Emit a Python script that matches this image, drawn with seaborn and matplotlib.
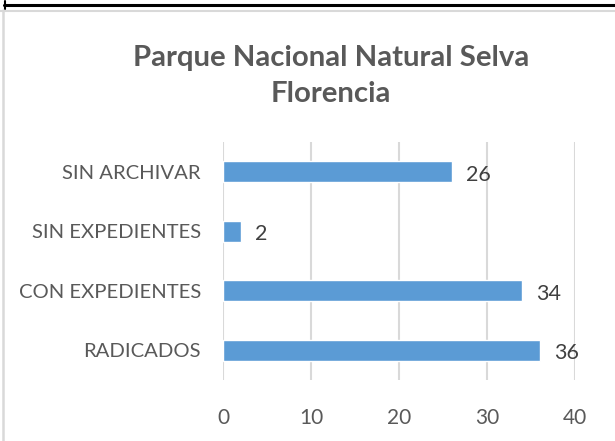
import matplotlib
matplotlib.use("Agg")
import matplotlib.pyplot as plt
from matplotlib.lines import Line2D
import pandas as pd
import seaborn as sns

# data
categories = ["SIN ARCHIVAR", "SIN EXPEDIENTES", "CON EXPEDIENTES", "RADICADOS"]
values = [26, 2, 34, 36]
x_ticks = [0, 10, 20, 30, 40]
title = "Parque Nacional Natural Selva\nFlorencia"

BAR_COLOR = "#5B9BD5"
TEXT_COLOR = "#595959"
GRID_COLOR = "#D9D9D9"

sns.set_theme(style="white")
plt.rcParams["font.family"] = ["Lato", "DejaVu Sans"]

W, H = 615, 441
fig = plt.figure(figsize=(W / 100, H / 100), dpi=100)
ax = fig.add_axes([223 / W, 1 - 380 / H, (575 - 223) / W, (380 - 142) / H])

df = pd.DataFrame({"category": categories, "value": values})
sns.barplot(data=df, x="value", y="category", order=categories,
            color=BAR_COLOR, saturation=1, width=0.35, ax=ax)

for i, v in enumerate(values):
    ax.text(v + 1.6, i + 0.05, str(v), va="center", ha="left",
            fontsize=15.5, color="#404040")

ax.set_xlim(0, 40)
ax.set_xticks(x_ticks)
ax.set_xlabel("")
ax.set_ylabel("")
ax.grid(axis="x", color=GRID_COLOR, linewidth=1.5)
ax.set_axisbelow(True)
for s in ax.spines.values():
    s.set_visible(False)
ax.tick_params(axis="x", length=0, pad=20, labelsize=15, labelcolor=TEXT_COLOR)
ax.tick_params(axis="y", length=0, pad=16, labelsize=14.6, labelcolor=TEXT_COLOR)

fig.text(331 / W, 1 - 76 / H, title, ha="center", va="center",
         fontsize=21.2, fontweight="bold", color=TEXT_COLOR, linespacing=1.45)

# border decoration
fig.add_artist(Line2D([4 / W, 1], [1 - 5 / H] * 2, color="black", lw=2.2))
fig.add_artist(Line2D([4.5 / W] * 2, [1 - 1 / H, 1 - 9 / H], color="black", lw=1.5))
fig.add_artist(Line2D([0, 1], [1 - 10.5 / H] * 2, color=GRID_COLOR, lw=1.5))
fig.add_artist(Line2D([3 / W] * 2, [0, 1 - 10 / H], color=GRID_COLOR, lw=1.8))

fig.savefig("out.png", dpi=100)
